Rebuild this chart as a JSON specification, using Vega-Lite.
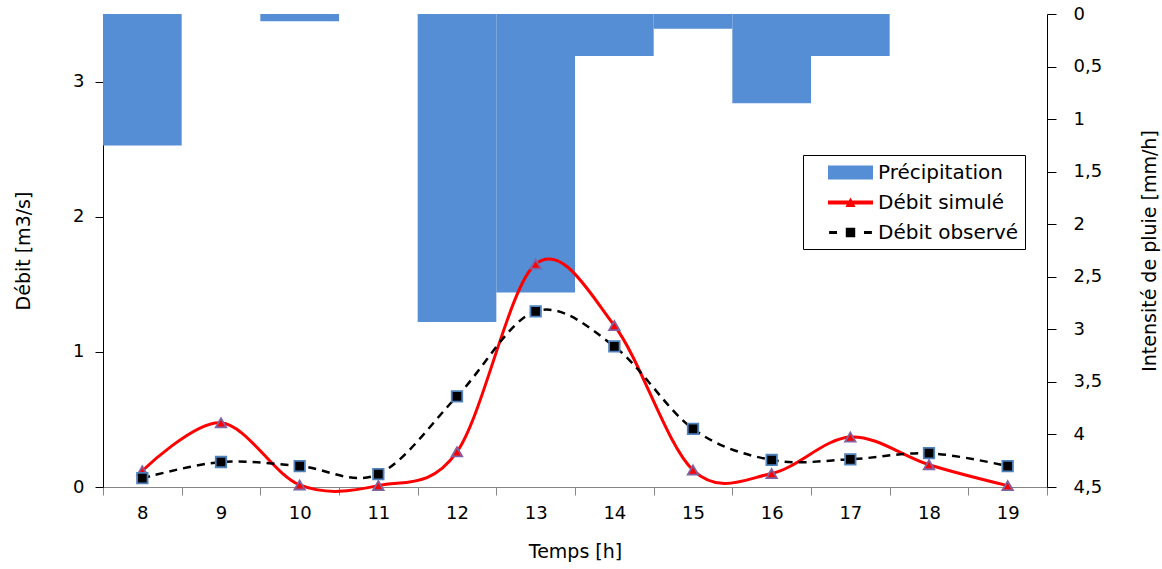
{
  "$schema": "https://vega.github.io/schema/vega-lite/v6.json",
  "width": 944,
  "height": 473,
  "autosize": {"type": "none"},
  "padding": {"left": 103, "top": 14, "right": 115, "bottom": 82},
  "config": {
    "view": {"stroke": null},
    "font": "DejaVu Sans",
    "axis": {"labelFont": "DejaVu Sans", "titleFont": "DejaVu Sans", "labelFontSize": 18, "titleFontSize": 19, "titleFontWeight": "normal", "labelColor": "#000", "titleColor": "#000", "grid": false},
    "legend": {"labelFont": "DejaVu Sans", "labelFontSize": 20, "labelColor": "#000"}
  },
  "datasets": {
    "precip": [
      {"t": 8, "value": 1.25}, {"t": 9, "value": 0}, {"t": 10, "value": 0.07}, {"t": 11, "value": 0},
      {"t": 12, "value": 2.93}, {"t": 13, "value": 2.65}, {"t": 14, "value": 0.4}, {"t": 15, "value": 0.14},
      {"t": 16, "value": 0.85}, {"t": 17, "value": 0.4}, {"t": 18, "value": 0}, {"t": 19, "value": 0}
    ],
    "flow": [
      {"t": 8, "series": "Débit simulé", "value": 0.12},
      {"t": 9, "series": "Débit simulé", "value": 0.475},
      {"t": 10, "series": "Débit simulé", "value": 0.015},
      {"t": 11, "series": "Débit simulé", "value": 0.01},
      {"t": 12, "series": "Débit simulé", "value": 0.26},
      {"t": 13, "series": "Débit simulé", "value": 1.65},
      {"t": 14, "series": "Débit simulé", "value": 1.195},
      {"t": 15, "series": "Débit simulé", "value": 0.125},
      {"t": 16, "series": "Débit simulé", "value": 0.1},
      {"t": 17, "series": "Débit simulé", "value": 0.37},
      {"t": 18, "series": "Débit simulé", "value": 0.165},
      {"t": 19, "series": "Débit simulé", "value": 0.01},
      {"t": 8, "series": "Débit observé", "value": 0.065},
      {"t": 9, "series": "Débit observé", "value": 0.185},
      {"t": 10, "series": "Débit observé", "value": 0.155},
      {"t": 11, "series": "Débit observé", "value": 0.095},
      {"t": 12, "series": "Débit observé", "value": 0.67},
      {"t": 13, "series": "Débit observé", "value": 1.3},
      {"t": 14, "series": "Débit observé", "value": 1.04},
      {"t": 15, "series": "Débit observé", "value": 0.43},
      {"t": 16, "series": "Débit observé", "value": 0.2},
      {"t": 17, "series": "Débit observé", "value": 0.205},
      {"t": 18, "series": "Débit observé", "value": 0.25},
      {"t": 19, "series": "Débit observé", "value": 0.155}
    ]
  },
  "layer": [
    {
      "data": {"name": "precip"},
      "mark": {"type": "bar", "color": "#558ED5"},
      "encoding": {
        "x": {"field": "t", "type": "ordinal", "scale": {"paddingInner": 0, "paddingOuter": 0},
          "axis": {"title": "Temps [h]", "labelAngle": 0, "tickBand": "extent", "domainColor": "#868686", "tickColor": "#868686", "tickSize": 8, "labelPadding": 9, "titlePadding": 20}},
        "y": {"field": "value", "type": "quantitative", "scale": {"domain": [0, 4.5], "reverse": true, "nice": false},
          "axis": {"orient": "right", "title": "Intensité de pluie [mm/h]", "titleAngle": 270, "titleBaseline": "bottom", "values": [0, 0.5, 1, 1.5, 2, 2.5, 3, 3.5, 4, 4.5], "labelExpr": "replace(toString(datum.value), '.', ',')", "domainColor": "#000", "tickColor": "#000", "tickSize": 9, "labelPadding": 17, "titlePadding": 58}}
      }
    },
    {
      "data": {"name": "flow"},
      "layer": [
        {
          "transform": [{"filter": "datum.series === 'Débit simulé'"}],
          "mark": {"type": "line", "color": "#FF0000", "strokeWidth": 3, "interpolate": "cardinal"},
          "encoding": {
            "x": {"field": "t", "type": "ordinal"},
            "y": {"field": "value", "type": "quantitative", "scale": {"domain": [0, 3.5], "nice": false},
              "axis": {"orient": "left", "title": "Débit [m3/s]", "values": [0, 1, 2, 3], "format": "d", "domainColor": "#000", "tickColor": "#000", "tickSize": 8, "labelPadding": 11, "titlePadding": 39}}
          }
        },
        {
          "transform": [{"filter": "datum.series === 'Débit observé'"}],
          "mark": {"type": "line", "color": "#000000", "strokeWidth": 2.5, "strokeDash": [8, 6], "interpolate": "cardinal"},
          "encoding": {
            "x": {"field": "t", "type": "ordinal"},
            "y": {"field": "value", "type": "quantitative"}
          }
        },
        {
          "transform": [{"filter": "datum.series === 'Débit simulé'"}],
          "mark": {"type": "point", "shape": "triangle-up", "filled": true, "color": "#FF0000", "stroke": "#8064A2", "size": 110, "strokeWidth": 1.8, "opacity": 1},
          "encoding": {
            "x": {"field": "t", "type": "ordinal"},
            "y": {"field": "value", "type": "quantitative"}
          }
        },
        {
          "transform": [{"filter": "datum.series === 'Débit observé'"}],
          "mark": {"type": "point", "shape": "square", "filled": true, "color": "#000000", "stroke": "#4F81BD", "size": 110, "strokeWidth": 1.8, "opacity": 1},
          "encoding": {
            "x": {"field": "t", "type": "ordinal"},
            "y": {"field": "value", "type": "quantitative"}
          }
        },
        {
          "mark": {"type": "point", "filled": true, "opacity": 0},
          "encoding": {
            "x": {"field": "t", "type": "ordinal"},
            "y": {"field": "value", "type": "quantitative"},
            "color": {"field": "series", "type": "nominal",
              "scale": {"domain": ["Précipitation", "Débit simulé", "Débit observé"], "range": ["#558ED5", "#FF0000", "#000000"]},
              "legend": {"title": null, "orient": "none", "legendX": 700, "legendY": 141, "strokeColor": "#000", "fillColor": "#fff", "padding": 6, "symbolSize": 506, "symbolOpacity": 1, "symbolStrokeWidth": 0, "rowPadding": 8, "symbolOffset": 30, "labelOffset": 16}},
            "shape": {"field": "series", "type": "nominal",
              "scale": {"domain": ["Précipitation", "Débit simulé", "Débit observé"], "range": ["M-2,-0.62H2V0.62H-2Z", "M-2,-0.18H2V0.18H-2Z M-0.45,0.4L0,-0.45L0.45,0.4Z", "M-1.9,-0.13H-1.2V0.13H-1.9Z M-0.42,-0.42H0.42V0.42H-0.42Z M1.2,-0.13H1.9V0.13H1.2Z"]},
              "legend": null}
          }
        }
      ]
    }
  ],
  "resolve": {"scale": {"y": "independent"}}
}
